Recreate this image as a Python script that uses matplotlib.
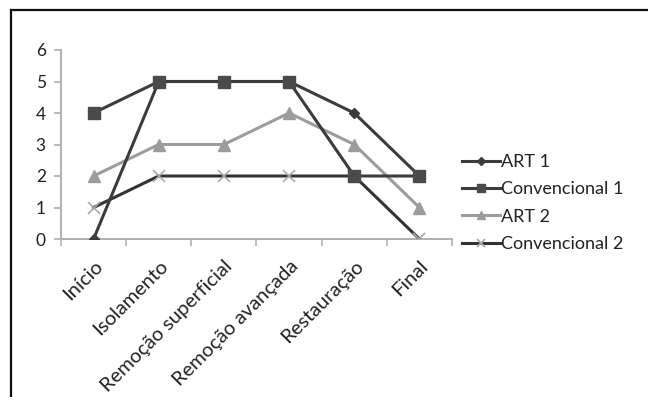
import matplotlib
matplotlib.use("Agg")
import matplotlib.pyplot as plt
from matplotlib.lines import Line2D

categories = ["Início", "Isolamento", "Remoção superficial", "Remoção avançada", "Restauração", "Final"]
art1 = [0, 5, 5, 5, 4, 2]
conv1 = [4, 5, 5, 5, 2, 2]
art2 = [2, 3, 3, 4, 3, 1]
conv2 = [1, 2, 2, 2, 2, 0]
yticks = [0, 1, 2, 3, 4, 5, 6]

plt.rcParams['font.family'] = ['Lato', 'DejaVu Sans']
W, H = 648, 397
fig = plt.figure(figsize=(W / 100, H / 100), dpi=100)
ax = fig.add_axes([61 / W, 1 - 239 / H, (452 - 61) / W, (239 - 50) / H])

x = list(range(len(categories)))
dark = "#3c3c3c"
sq = "#4a4a4a"
light = "#9c9c9c"

ax.plot(x, art1, color=dark, lw=2.2, marker="D", ms=5, mfc=dark, mec=dark, label="ART 1", zorder=3)
ax.plot(x, conv1, color=dark, lw=2.2, marker="s", ms=8.5, mfc=sq, mec=sq, label="Convencional 1", zorder=4)
ax.plot(x, art2, color=light, lw=2.2, marker="^", ms=8.5, mfc=light, mec=light, label="ART 2", zorder=2)
ax.plot(x, conv2, color="#333333", lw=2.2, marker="x", ms=8.5, mew=1.2, mec="#aaaaaa", label="Convencional 2", zorder=2)

ax.set_xlim(-0.5, len(categories) - 0.5)
ax.set_ylim(0, 6)
ax.set_yticks(yticks)
ax.set_yticklabels([str(v) for v in yticks], fontsize=12.5, color="#222222")
ax.set_xticks(x)
ax.set_xticklabels(categories, rotation=45, ha="right", rotation_mode="anchor", fontsize=14.5, color="#222222")
ax.set_xticks([i - 0.5 for i in range(len(categories) + 1)], minor=True)
ax.tick_params(axis="x", which="major", length=0, pad=13)
ax.tick_params(axis="x", which="minor", length=5, width=1.2, color="#b0b0b0", direction="out")
ax.tick_params(axis="y", length=5, width=1.2, color="#b0b0b0", direction="out", pad=6)

for s in ["top", "right"]:
    ax.spines[s].set_visible(False)
for s in ["left", "bottom"]:
    ax.spines[s].set_color("#b0b0b0")
    ax.spines[s].set_linewidth(1.4)
ax.spines["bottom"].set_zorder(1)

leg = ax.legend(loc="center left", bbox_to_anchor=(462 / W, 1 - 203 / H), bbox_transform=fig.transFigure,
                frameon=False, fontsize=13, handlelength=2.1, handletextpad=0.05, markerscale=0.75,
                labelspacing=0.63, borderaxespad=0, borderpad=0)
for t in leg.get_texts():
    t.set_color("#222222")

fig.add_artist(Line2D([10.5 / W, 1], [1 - 9.5 / H, 1 - 9.5 / H], color="#111111", lw=1.6))
fig.add_artist(Line2D([10.5 / W, 10.5 / W], [0, 1 - 9.5 / H], color="#111111", lw=1.6))

fig.savefig("out.png", dpi=100, facecolor="white")
